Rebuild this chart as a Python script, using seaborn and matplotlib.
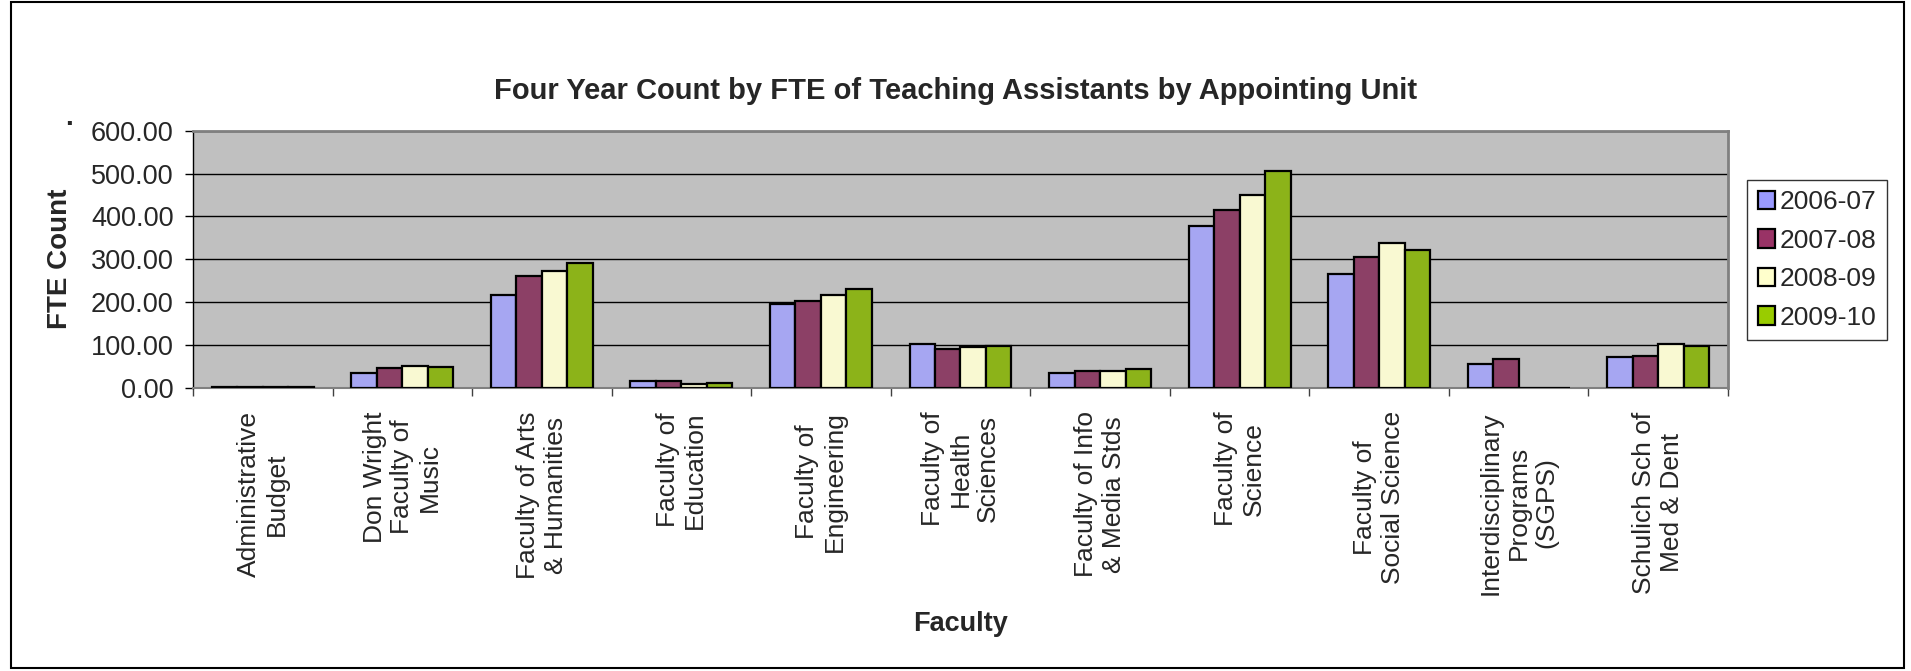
import numpy as np
import pandas as pd
import matplotlib
matplotlib.use("Agg")
import matplotlib.pyplot as plt
from matplotlib.patches import Rectangle, Patch
from matplotlib.ticker import FormatStrFormatter
import seaborn as sns

# Data
faculties = [
    "Administrative\nBudget",
    "Don Wright\nFaculty of\nMusic",
    "Faculty of Arts\n& Humanities",
    "Faculty of\nEducation",
    "Faculty of\nEngineering",
    "Faculty of\nHealth\nSciences",
    "Faculty of Info\n& Media Stds",
    "Faculty of\nScience",
    "Faculty of\nSocial Science",
    "Interdisciplinary\nPrograms\n(SGPS)",
    "Schulich Sch of\nMed & Dent",
]
years = ["2006-07", "2007-08", "2008-09", "2009-10"]
fte_2006_07 = [2, 34, 216, 16, 195, 102, 35, 377, 265, 56, 72]
fte_2007_08 = [2, 45, 261, 16, 203, 90, 39, 415, 304, 67, 75]
fte_2008_09 = [1, 51, 272, 8, 216, 94, 38, 451, 337, 0, 102]
fte_2009_10 = [1, 49, 290, 11, 230, 97, 44, 507, 322, 0, 97]
colors = ["#9999FF", "#993366", "#FFFFCC", "#99CC00"]

series = [fte_2006_07, fte_2007_08, fte_2008_09, fte_2009_10]
rows = []
for yr, vals in zip(years, series):
    for fac, v in zip(faculties, vals):
        rows.append({"Faculty": fac, "Year": yr, "FTE": v})
df = pd.DataFrame(rows)

sns.set_theme(style="white")
plt.rcParams["font.family"] = ["Liberation Sans", "DejaVu Sans"]

W, H = 1911, 671
fig = plt.figure(figsize=(W / 100, H / 100), dpi=100)

# plot area placed from pixel measurements
left, right, top, bottom = 193, 1728, 130.7, 387.7
ax = fig.add_axes([left / W, 1 - bottom / H, (right - left) / W, (bottom - top) / H])
ax.set_facecolor("#C0C0C0")

sns.barplot(data=df, x="Faculty", y="FTE", hue="Year", palette=colors,
            width=0.73, edgecolor="black", linewidth=1.6, ax=ax, legend=False,
            zorder=3)

ax.set_ylim(0, 600)
ax.set_xlim(-0.5, len(faculties) - 0.5)
ax.set_yticks(np.arange(0, 601, 100))
ax.yaxis.set_major_formatter(FormatStrFormatter("%.2f"))
ax.grid(axis="y", color="black", linewidth=1, zorder=1)
ax.set_axisbelow(True)
ax.set_xlabel("")
ax.set_ylabel("")

ax.tick_params(axis="y", labelsize=19.5, length=6, width=1, pad=8, color="black", left=True)
ax.tick_params(axis="x", which="major", labelsize=19, length=0, pad=17)
ax.set_xticks(np.arange(-0.5, len(faculties), 1), minor=True)
ax.tick_params(axis="x", which="minor", length=6, width=1, color="#404040", bottom=True)
for lbl in ax.get_xticklabels():
    lbl.set_rotation(90)
    lbl.set_multialignment("center")
    lbl.set_va("top")
    lbl.set_ha("center")

for side in ["top", "right"]:
    ax.spines[side].set_color("#808080")
    ax.spines[side].set_linewidth(2)
ax.spines["left"].set_color("black")
ax.spines["bottom"].set_color("#808080")
ax.spines["left"].set_linewidth(1)
ax.spines["bottom"].set_linewidth(1.5)

handles = [Patch(facecolor=c, edgecolor="black", linewidth=1.6) for c in colors]
leg = fig.legend(handles, years, loc="center left",
                 bbox_to_anchor=(1747 / W, 1 - 260 / H), fontsize=19,
                 frameon=True, fancybox=False, edgecolor="black",
                 handlelength=0.65, handleheight=0.7, handletextpad=0.2,
                 labelspacing=0.55, borderpad=0.4, borderaxespad=0)
leg.get_frame().set_linewidth(1)

fig.text(0.5, 1 - 91 / H, "Four Year Count by FTE of Teaching Assistants by Appointing Unit",
         ha="center", va="center", fontsize=21, fontweight="bold")
fig.text(69 / W, 1 - 118 / H, ".", ha="center", va="center", fontsize=20, fontweight="bold")
fig.text(60 / W, 1 - 259 / H, "FTE Count", rotation=90, ha="center", va="center",
         fontsize=20, fontweight="bold")
fig.text((left + right) / 2 / W, 1 - 624 / H, "Faculty", ha="center", va="center",
         fontsize=19.5, fontweight="bold")

# chart border
fig.patches.append(Rectangle((11 / W, 3 / H), (1904 - 11) / W, (666 - 0) / H,
                             transform=fig.transFigure, fill=False,
                             edgecolor="black", linewidth=1.5))

fig.savefig("out.png", dpi=100)
